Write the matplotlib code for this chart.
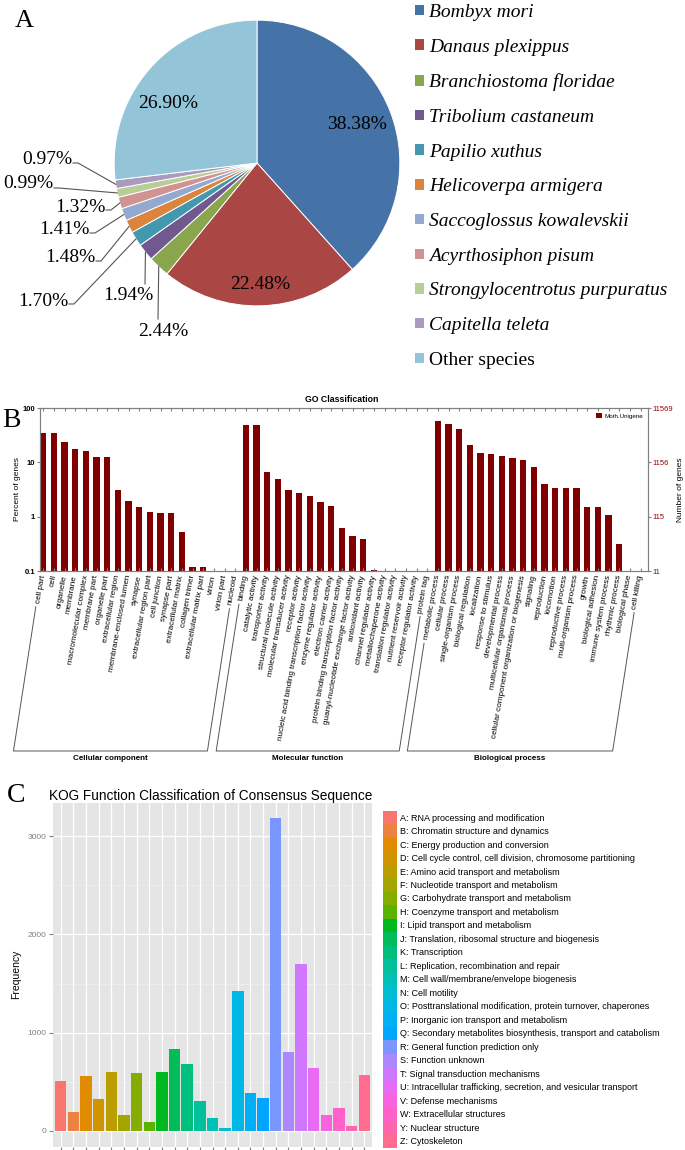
import numpy as np
import matplotlib
matplotlib.use('Agg')
import matplotlib.pyplot as plt
from matplotlib.lines import Line2D
from matplotlib.patches import Patch
from matplotlib.font_manager import FontProperties
from matplotlib.ticker import NullLocator, FixedLocator

# ---------------- Panel A data ----------------
species = ['Bombyx mori', 'Danaus plexippus', 'Branchiostoma floridae', 'Tribolium castaneum',
           'Papilio xuthus', 'Helicoverpa armigera', 'Saccoglossus kowalevskii',
           'Acyrthosiphon pisum', 'Strongylocentrotus purpuratus', 'Capitella teleta',
           'Other species']
species_pct = [38.38, 22.48, 2.44, 1.94, 1.70, 1.48, 1.41, 1.32, 0.99, 0.97, 26.90]
species_colors = ['#4572A7', '#AA4643', '#89A54E', '#71588F', '#4198AF', '#DB843D',
                  '#93A9CF', '#D19392', '#B9CD96', '#A99BBD', '#93C4D8']

# ---------------- Panel B data ----------------
cc_terms = ['cell part', 'cell', 'organelle', 'membrane', 'macromolecular complex',
            'membrane part', 'organelle part', 'extracellular region',
            'membrane-enclosed lumen', 'synapse', 'extracellular region part',
            'cell junction', 'synapse part', 'extracellular matrix', 'collagen trimer',
            'extracellular matrix part', 'virion', 'virion part', 'nucleoid']
cc_pct = [34.2, 34.0, 24.0, 17.9, 16.2, 12.7, 12.6, 3.05, 1.94, 1.51, 1.22, 1.17, 1.17,
          0.53, 0.12, 0.12, 0, 0, 0]
mf_terms = ['binding', 'catalytic activity', 'transporter activity',
            'structural molecule activity', 'molecular transducer activity',
            'receptor activity', 'nucleic acid binding transcription factor activity',
            'enzyme regulator activity', 'electron carrier activity',
            'protein binding transcription factor activity',
            'guanyl-nucleotide exchange factor activity', 'antioxidant activity',
            'channel regulator activity', 'metallochaperone activity',
            'translation regulator activity', 'nutrient reservoir activity',
            'receptor regulator activity', 'protein tag']
mf_pct = [48.0, 48.0, 6.6, 5.0, 3.05, 2.77, 2.44, 1.86, 1.59, 0.63, 0.45, 0.39, 0.103,
          0, 0, 0, 0, 0]
bp_terms = ['metabolic process', 'cellular process',
            'single-organism process', 'biological regulation', 'localization',
            'response to stimulus', 'developmental process',
            'multicellular organismal process',
            'cellular component organization or biogenesis', 'signaling', 'reproduction',
            'locomotion', 'reproductive process', 'multi-organism process', 'growth',
            'biological adhesion', 'immune system process', 'rhythmic process',
            'biological phase', 'cell killing']
bp_pct = [56.9, 50.8, 41.7, 21.1, 14.8, 14.2, 13.3, 12.0, 11.2, 8.2, 4.0, 3.42, 3.42,
          3.32, 1.53, 1.49, 1.07, 0.32, 0, 0]
go_groups = ['Cellular component', 'Molecular function', 'Biological process']
total_genes = 11569
series_name = 'Moth.Unigene'

# ---------------- Panel C data ----------------
kog_codes = ['A', 'B', 'C', 'D', 'E', 'F', 'G', 'H', 'I', 'J', 'K', 'L', 'M', 'N', 'O',
             'P', 'Q', 'R', 'S', 'T', 'U', 'V', 'W', 'Y', 'Z']
kog_desc = ['RNA processing and modification',
            'Chromatin structure and dynamics',
            'Energy production and conversion',
            'Cell cycle control, cell division, chromosome partitioning',
            'Amino acid transport and metabolism',
            'Nucleotide transport and metabolism',
            'Carbohydrate transport and metabolism',
            'Coenzyme transport and metabolism',
            'Lipid transport and metabolism',
            'Translation, ribosomal structure and biogenesis',
            'Transcription',
            'Replication, recombination and repair',
            'Cell wall/membrane/envelope biogenesis',
            'Cell motility',
            'Posttranslational modification, protein turnover, chaperones',
            'Inorganic ion transport and metabolism',
            'Secondary metabolites biosynthesis, transport and catabolism',
            'General function prediction only',
            'Function unknown',
            'Signal transduction mechanisms',
            'Intracellular trafficking, secretion, and vesicular transport',
            'Defense mechanisms',
            'Extracellular structures',
            'Nuclear structure',
            'Cytoskeleton']
kog_freq = [511, 193, 556, 326, 600, 159, 593, 93, 604, 830, 681, 300, 133, 26, 1426,
            389, 337, 3185, 807, 1704, 644, 163, 233, 48, 567]

# ---------------- helpers ----------------
W, H = 685, 1150
def box(l, t, r, b):
    return [l / W, 1 - b / H, (r - l) / W, (b - t) / H]
def fx(x):
    return x / W
def fy(y):
    return 1 - y / H

def hue_colors(n, c=100.0, l=65.0):
    """ggplot2 default hue palette (HCL -> sRGB)."""
    hs = np.linspace(15, 375, n + 1)[:n]
    Xn, Yn, Zn = 95.047, 100.0, 108.883
    un = 4 * Xn / (Xn + 15 * Yn + 3 * Zn)
    vn = 9 * Yn / (Xn + 15 * Yn + 3 * Zn)
    out = []
    for h in hs:
        hr = np.deg2rad(h)
        u, v = c * np.cos(hr), c * np.sin(hr)
        Y = Yn * ((l + 16) / 116) ** 3
        up = u / (13 * l) + un
        vp = v / (13 * l) + vn
        X = 9 * Y * up / (4 * vp)
        Z = Y * (12 - 3 * up - 20 * vp) / (4 * vp)
        X, Y2, Z = X / 100, Y / 100, Z / 100
        rgb = np.array([3.240479 * X - 1.537150 * Y2 - 0.498535 * Z,
                        -0.969256 * X + 1.875992 * Y2 + 0.041556 * Z,
                        0.055648 * X - 0.204043 * Y2 + 1.057311 * Z])
        rgb = np.where(rgb <= 0.0031308, 12.92 * rgb, 1.055 * np.abs(rgb) ** (1 / 2.4) - 0.055)
        out.append(tuple(np.clip(rgb, 0, 1)))
    return out

SERIF = 'Liberation Serif'
SANS = 'Liberation Sans'

fig = plt.figure(figsize=(W / 100, H / 100), dpi=100)
fig.patch.set_facecolor('white')

# =============== Panel A: pie =================
axA = fig.add_axes(box(107, 13, 407, 313))
wedges, _ = axA.pie(species_pct, colors=species_colors, startangle=90, counterclock=False,
                    wedgeprops=dict(edgecolor='white', linewidth=0.7))
axA.set_xlim(-1.05, 1.05)
axA.set_ylim(-1.05, 1.05)
axA.set_aspect('equal')
axA.axis('off')
R_PX = 300 / 2.1

def to_data(px, py):
    return ((px - 257) / R_PX, (163 - py) / R_PX)

inner_r = {0: (0.75, 0.0), 1: (0.85, 0.0), 10: (0.75, 8.0)}
small_pos = {2: ((163, 331), (158, 319), 'v'), 3: ((128, 296), (145, 284), 'v'),
             4: ((43, 301), (69, 304), 'h'), 5: ((70, 258), (96, 261), 'h'),
             6: ((64, 230), (90, 233), 'h'), 7: ((80, 207), (106, 210), 'h'),
             8: ((28, 184), (54, 188), 'h'), 9: ((47, 159), (73, 163), 'h')}
for i, (w, v) in enumerate(zip(wedges, species_pct)):
    mid = (w.theta1 + w.theta2) / 2
    lab = f'{v:.2f}%'
    if i in inner_r:
        r, dth = inner_r[i]
        th = np.deg2rad(mid + dth)
        axA.text(r * np.cos(th), r * np.sin(th), lab, ha='center', va='center',
                 family=SERIF, fontsize=14, color='black')
    else:
        th = np.deg2rad(mid)
        (tx, ty), (sx, sy), kind = small_pos[i]
        xd, yd = to_data(tx, ty)
        axA.text(xd, yd, lab, ha='center', va='center', family=SERIF, fontsize=14,
                 color='black', clip_on=False)
        ex, ey = np.cos(th), np.sin(th)
        s0 = to_data(sx, sy)
        if kind == 'v':
            xs, ys = [s0[0], ex], [s0[1], ey]
        else:
            s1 = to_data(sx + 5, sy)
            xs, ys = [s0[0], s1[0], ex], [s0[1], s1[1], ey]
        axA.add_line(Line2D(xs, ys, color='#555555', lw=0.8, clip_on=False))

legA = fig.legend(wedges, species, loc='upper left', bbox_to_anchor=(fx(415), fy(4)),
                  frameon=False, prop=FontProperties(family=SERIF, style='italic', size=14),
                  handlelength=0.46, handleheight=0.46, handletextpad=0.25,
                  labelspacing=0.91, borderpad=0, borderaxespad=0)
legA.get_texts()[-1].set_fontstyle('normal')
for p in legA.get_patches():
    p.set_edgecolor('none')

fig.text(fx(24), fy(21), 'A', family=SERIF, fontsize=19, ha='center', va='center')

# =============== Panel B: GO bars =================
go_terms = cc_terms + mf_terms + bp_terms
go_pct = cc_pct + mf_pct + bp_pct
xb = np.arange(len(go_terms))
axB = fig.add_axes(box(40, 408, 648, 571))
axB.bar(xb, go_pct, width=0.6, color='#800000', log=True, label=series_name)
axB.set_yscale('log')
axB.set_ylim(0.1, 100)
axB.set_xlim(-0.3, len(go_terms) - 0.3)
axB.yaxis.set_major_locator(FixedLocator([0.1, 1, 10, 100]))
axB.yaxis.set_minor_locator(NullLocator())
axB.set_yticklabels(['0.1', '1', '10', '100'])
axB.set_xticks(xb)
axB.set_xticklabels(go_terms, rotation=80, ha='right', va='center', rotation_mode='anchor',
                    fontsize=5.9, family=SANS)
axB.tick_params(axis='x', which='both', direction='in', length=2, top=True, color='#808080',
                pad=3)
axB.tick_params(axis='y', labelsize=5.5, length=2, color='#808080', pad=1.5)
for lab in axB.get_yticklabels():
    lab.set_family(SANS)
    lab.set_fontweight('bold')
for s in axB.spines.values():
    s.set_color('#808080')
    s.set_linewidth(0.8)
axB.set_ylabel('Percent of genes', fontsize=6, family=SANS)
axB.yaxis.set_label_coords((21 - 40) / 608, 0.5)

axR = axB.twinx()
axR.set_yscale('log')
axR.set_ylim(total_genes * 0.001, total_genes)
rt = [total_genes * 0.001, total_genes * 0.01, total_genes * 0.1, total_genes]
axR.yaxis.set_major_locator(FixedLocator(rt))
axR.yaxis.set_minor_locator(NullLocator())
axR.set_yticklabels([str(int(t)) for t in rt])
axR.tick_params(axis='y', labelsize=5.5, length=2, color='#808080', labelcolor='#990000',
                pad=1.5)
for lab in axR.get_yticklabels():
    lab.set_family(SANS)
for s in axR.spines.values():
    s.set_color('#808080')
    s.set_linewidth(0.8)
axR.set_ylabel('Number of genes', fontsize=6, family=SANS)
axR.yaxis.set_label_coords((677 - 40) / 608, 0.5)

axB.legend(loc='upper right', frameon=False, handlelength=0.9,
           handleheight=0.9, handletextpad=0.4, borderaxespad=0.4,
           prop=FontProperties(family=SANS, size=4.5))

fig.text(fx(342), fy(400), 'GO Classification', ha='center', va='center', fontsize=6.3,
         fontweight='bold', family=SANS)
fig.text(fx(11), fy(421), 'B', family=SERIF, fontsize=20, ha='center', va='center')

# group brackets computed from the rendered tick label extents
fig.canvas.draw()
renderer = fig.canvas.get_renderer()
labels = axB.get_xticklabels()
slope = 0.155
y_bot = H - 751
bounds = [0, len(cc_terms), len(cc_terms) + len(mf_terms), len(go_terms)]
for g, name in enumerate(go_groups):
    i0, i1 = bounds[g], bounds[g + 1] - 1
    b0 = labels[i0].get_window_extent(renderer)
    b1 = labels[i1].get_window_extent(renderer)
    lx_top, ly_top = b0.x0 + 1, b0.y0 - 3
    rx_top, ry_top = b1.x0 + 3, b1.y0 - 3
    lx_bot = lx_top - slope * (ly_top - y_bot)
    rx_bot = rx_top - slope * (ry_top - y_bot)
    xs = [lx_top, lx_bot, rx_bot, rx_top]
    ys = [ly_top, y_bot, y_bot, ry_top]
    fig.add_artist(Line2D([x / W for x in xs], [y / H for y in ys], color='#555555',
                          lw=0.7, transform=fig.transFigure))
    fig.text((lx_bot + rx_bot) / 2 / W, fy(758), name, ha='center', va='center',
             fontsize=5.8, fontweight='bold', family=SANS)

# =============== Panel C: KOG bars =================
kog_colors = hue_colors(len(kog_codes))
xc = np.arange(1, len(kog_codes) + 1)
axC = fig.add_axes(box(53, 802.5, 372, 1146.5))
axC.set_facecolor('#E5E5E5')
axC.bar(xc, kog_freq, width=0.9, color=kog_colors, zorder=3)
fmax = max(kog_freq)
axC.set_xlim(0.4, len(kog_codes) + 0.6)
axC.set_ylim(-0.05 * fmax, 1.05 * fmax)
axC.set_yticks([0, 1000, 2000, 3000])
axC.set_yticks([500, 1500, 2500], minor=True)
axC.set_xticks(xc)
axC.set_xticklabels([])
axC.grid(which='major', color='white', lw=0.9, zorder=1)
axC.grid(which='minor', axis='y', color='#F2F2F2', lw=0.45, zorder=1)
axC.set_axisbelow(True)
for s in axC.spines.values():
    s.set_visible(False)
axC.tick_params(axis='both', which='major', length=3, color='#7F7F7F', labelcolor='#7F7F7F',
                labelsize=6, pad=2)
axC.tick_params(axis='y', which='minor', length=0)
for lab in axC.get_yticklabels():
    lab.set_family(SANS)
axC.set_ylabel('Frequency', fontsize=7.5, family=SANS)
axC.yaxis.set_label_coords((21 - 53) / 319, 0.5)

handles = [Patch(facecolor=c, edgecolor='none') for c in kog_colors]
kog_labels = [f'{c}: {d}' for c, d in zip(kog_codes, kog_desc)]
fig.legend(handles, kog_labels, loc='upper left', bbox_to_anchor=(fx(383), fy(811)),
           frameon=False, prop=FontProperties(family=SANS, size=6.5),
           handlelength=1.55, handleheight=1.92, labelspacing=0, handletextpad=0.35,
           borderpad=0, borderaxespad=0)

fig.text(fx(49), fy(796), 'KOG Function Classification of Consensus Sequence', ha='left',
         va='center', fontsize=9.8, family=SANS)
fig.text(fx(16), fy(796), 'C', family=SERIF, fontsize=20, ha='center', va='center')

fig.savefig('out.png', dpi=100)
